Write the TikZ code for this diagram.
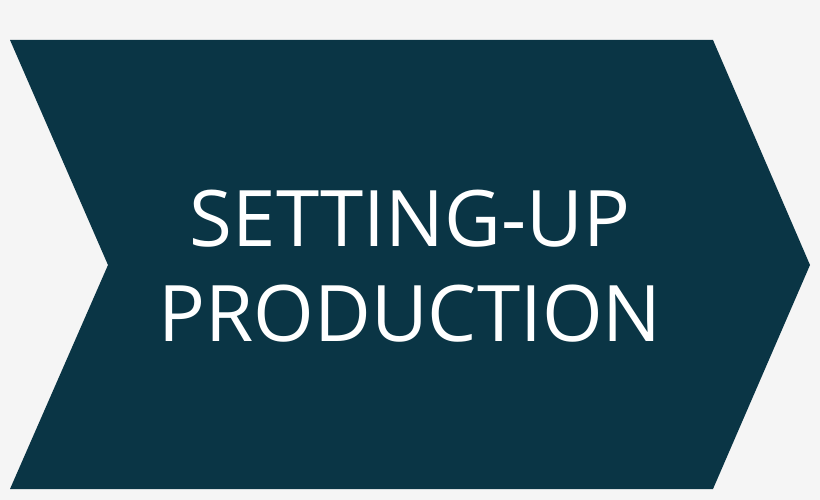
\documentclass[tikz,border=0pt]{standalone}
\usepackage{fontspec}
\setmainfont{Open Sans}
\usepackage{tikz}
\usetikzlibrary{positioning}
\definecolor{chevronteal}{HTML}{0A3545}
\definecolor{pagegray}{HTML}{F5F5F5}

\begin{document}
\begin{tikzpicture}[x=1pt,y=-1pt,
	label text/.style={text=white, font=\fontsize{78}{95}\selectfont, align=center}]

	% Background %
	\fill [pagegray] (0,0) rectangle (820,500);
	\useasboundingbox (0,0) rectangle (820,500);
	% Chevron %
	\fill [chevronteal] (10,40) -- (713,40) -- (810,265) -- (713,489) -- (10,489) -- (108,265) -- cycle;
	% Label %
	\node [label text] (title) at (410,266) {SETTING-UP\\PRODUCTION};
\end{tikzpicture}
\end{document}
